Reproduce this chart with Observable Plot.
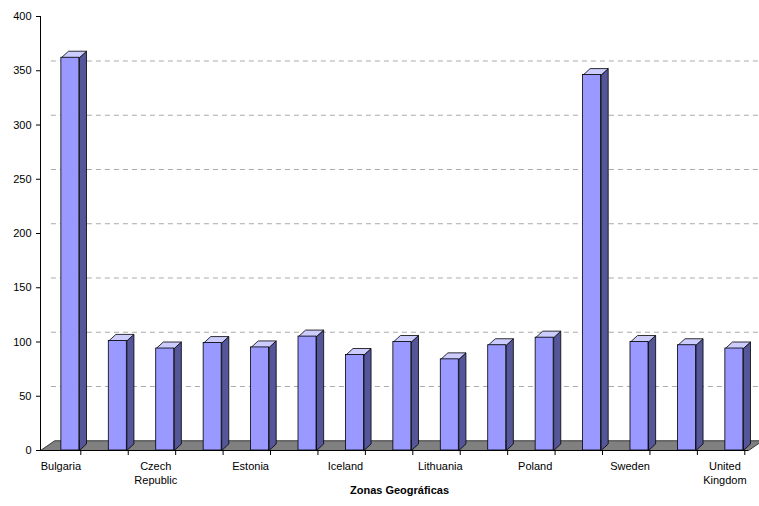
<!DOCTYPE html>
<html><head><meta charset="utf-8">
<script src="https://cdn.jsdelivr.net/npm/d3@7"></script>
<script src="https://cdn.jsdelivr.net/npm/@observablehq/plot@0.6"></script>
<style>body{margin:0;background:#fff;font-family:Arial,"Liberation Sans",sans-serif}
#t{text-align:center;font-size:11px;font-weight:bold;margin-top:-4px;padding-left:40px}</style>
</head><body><div id="c"></div><div id="t">Zonas Geográficas</div>
<script>
const countries = ["Bulgaria","Cyprus","Czech\nRepublic","Denmark","Estonia","Hungary","Iceland","Latvia","Lithuania","Norway","Poland","Romania","Sweden","Switzerland","United\nKingdom"];
const values = [362,101,94,99,95,105,88,100,84,97,104,346,100,97,94];
const yTicks = [0,50,100,150,200,250,300,350,400];

const W = 0.19, DX = 0.15, DY = 6;
const bars = values.map((v,i)=>({i,v,name:countries[i]}));
const tops = bars.flatMap(b=>[[b.i-W,b.v],[b.i+W,b.v],[b.i+W+DX,b.v+DY],[b.i-W+DX,b.v+DY],[b.i-W,b.v]].map(([x,y])=>({x,y,z:b.i})));
const sides = bars.flatMap(b=>[[b.i+W,0],[b.i+W,b.v],[b.i+W+DX,b.v+DY],[b.i+W+DX,DY],[b.i+W,0]].map(([x,y])=>({x,y,z:b.i})));
const floor = [[-0.63,0],[14.3,0],[14.6,9],[-0.33,9],[-0.63,0]].map(([x,y])=>({x,y}));
const labels = bars.filter(b=>b.i%2===0);
const ticksX = d3.range(0,15).map(i=>i+0.22);

const chart = Plot.plot({
  width:759, height:488, marginLeft:40, marginRight:0, marginTop:16, marginBottom:38,
  x:{domain:[-0.63,14.53], axis:null},
  y:{domain:[0,400], ticks:yTicks, tickSize:4, label:null, tickFormat:d=>d},
  style:{fontSize:"11px", fontFamily:"Arial, Liberation Sans, sans-serif", color:"#000"},
  marks:[
    Plot.ruleY(yTicks.filter(d=>d>0&&d<400),{y:d=>d+9, x1:-0.4, x2:14.53, stroke:"#aaa", strokeDasharray:"5,4"}),
    Plot.line(floor,{x:"x",y:"y",fill:"#808080",stroke:"#000",strokeWidth:0.7}),
    Plot.line(sides,{x:"x",y:"y",z:"z",fill:"#555599",stroke:"#000",strokeWidth:0.8}),
    Plot.line(tops,{x:"x",y:"y",z:"z",fill:"#ccccff",stroke:"#000",strokeWidth:0.8}),
    Plot.rect(bars,{x1:d=>d.i-W,x2:d=>d.i+W,y1:0,y2:"v",fill:"#9999ff",stroke:"#000",strokeWidth:0.8}),
    Plot.ruleX([-0.63],{y1:0,y2:400,stroke:"#000"}),
    Plot.ruleY([0],{x1:-0.63,x2:14.3,stroke:"#000"}),
    Plot.ruleX(ticksX,{x:d=>d,y1:0,y2:0,insetBottom:-5,stroke:"#000"}),
    Plot.text(labels,{x:d=>d.i-0.2,y:0,text:"name",dy:9,lineAnchor:"top",lineHeight:1.3,textAnchor:"middle",fill:"#000"})
  ]
});
document.getElementById("c").append(chart);
</script></body></html>
